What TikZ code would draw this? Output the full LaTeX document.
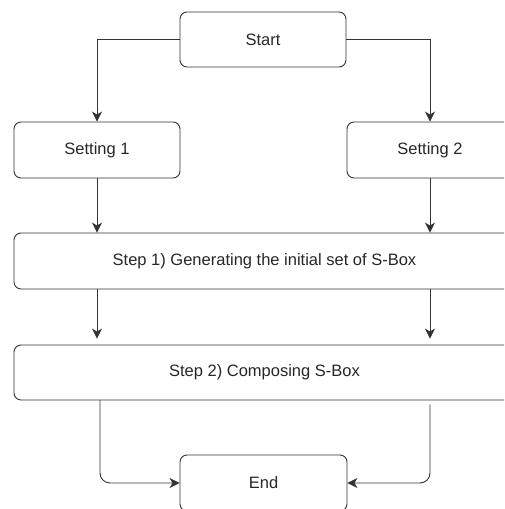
\documentclass[tikz,border=0pt]{standalone}
\usepackage{fontspec}
\setmainfont{Liberation Sans}
\usetikzlibrary{arrows.meta}
\begin{document}
\begin{tikzpicture}[x=1pt,y=-1pt,
  box/.style={draw=black!80, line width=0.9pt, rounded corners=7pt, inner sep=0pt,
    font=\fontsize{16.5}{19}\selectfont, text=black!85},
  arr/.style={draw=black!80, line width=0.9pt, -{Stealth[length=10pt,width=10pt,inset=3pt]}}]
\useasboundingbox (0,0) rectangle (504,509);
\clip (0,0) rectangle (504,509);
\node[box, minimum width=166pt, minimum height=55pt] (start) at (263,39.5) {Start};
\node[box, minimum width=166pt, minimum height=56pt] (s1) at (97,150) {Setting 1};
\node[box, minimum width=166pt, minimum height=56pt] (s2) at (430,150) {Setting 2};
\node[box, minimum width=501pt, minimum height=56pt] (st1) at (264.5,261) {Step 1) Generating the initial set of S-Box};
\node[box, minimum width=501pt, minimum height=55pt] (st2) at (264.5,372.5) {Step 2) Composing S-Box};
\node[box, minimum width=167pt, minimum height=56pt] (end) at (263.5,483) {End};
\draw[arr] (start.west) -| (s1.north);
\draw[arr] (start.east) -| (s2.north);
\draw[arr] (s1.south) -- (s1.south |- st1.north);
\draw[arr] (s2.south) -- (s2.south |- st1.north);
\draw[arr, shorten >=6pt] (st1.south -| s1.south) -- (st2.north -| s1.south);
\draw[arr, shorten >=6pt] (st1.south -| s2.south) -- (st2.north -| s2.south);
\coordinate (pl) at (100,400);
\draw[arr, rounded corners=10pt] (pl) |- (end.west);
\draw[arr, rounded corners=10pt, shorten <=4pt] (st2.south -| s2.south) |- (end.east);
\end{tikzpicture}
\end{document}
